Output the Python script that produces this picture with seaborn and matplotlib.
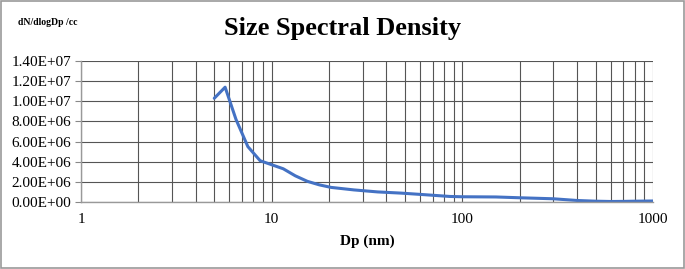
import matplotlib
matplotlib.use("Agg")
import matplotlib.pyplot as plt
import matplotlib.ticker as mticker
import seaborn as sns
import pandas as pd
from matplotlib.patches import Rectangle

dp_nm = [5.0, 5.7, 6.5, 7.5, 8.7, 10.0, 11.5, 13.3, 15.4, 17.8, 20.5, 27.0, 36.0, 48.0, 64.0, 86.0, 100.0, 150.0, 200.0, 300.0, 400.0, 500.0, 600.0, 700.0, 800.0, 1000.0]
density = [1.03e7, 1.14e7, 8.2e6, 5.5e6, 4.1e6, 3.7e6, 3.3e6, 2.6e6, 2.05e6, 1.7e6, 1.45e6, 1.2e6, 1.0e6, 0.88e6, 0.72e6, 0.55e6, 0.52e6, 0.5e6, 0.42e6, 0.32e6, 0.15e6, 0.08e6, 0.05e6, 0.06e6, 0.08e6, 0.1e6]
yticks = [0, 2e6, 4e6, 6e6, 8e6, 1e7, 1.2e7, 1.4e7]
xticks = [1, 10, 100, 1000]

df = pd.DataFrame({"Dp": dp_nm, "dN": density})

sns.set_style("white")
plt.rcParams["font.family"] = ["Liberation Serif", "DejaVu Serif"]
plt.rcParams["text.color"] = "black"
plt.rcParams["axes.labelcolor"] = "black"
plt.rcParams["xtick.labelcolor"] = "black"
plt.rcParams["ytick.labelcolor"] = "black"

fig = plt.figure(figsize=(6.85, 2.69), dpi=100)
ax = fig.add_axes([81/685, 1 - 202/269, (653-81)/685, (202-61)/269])

sns.lineplot(data=df, x="Dp", y="dN", ax=ax, color="#4472C4", linewidth=2.2)
ax.set_xscale("log")
ax.set_xlim(1, 1000)
ax.set_ylim(0, 1.4e7)
ax.set_yticks(yticks)
ax.yaxis.set_major_formatter(mticker.FuncFormatter(lambda v, p: "%.2E" % v))
ax.set_xticks(xticks)
ax.xaxis.set_major_formatter(mticker.FuncFormatter(lambda v, p: "%d" % v))
ax.xaxis.set_minor_locator(mticker.LogLocator(base=10, subs=range(2, 10)))
ax.xaxis.set_minor_formatter(mticker.NullFormatter())

ax.grid(True, which="major", axis="both", color="#555555", linewidth=0.8)
ax.grid(True, which="minor", axis="x", color="#555555", linewidth=0.8)
ax.tick_params(axis="y", which="major", length=4, color="#888888", labelsize=11, pad=3, left=True, labelcolor="black")
ax.tick_params(axis="x", which="major", length=0, labelsize=11, pad=8, labelcolor="black")
ax.tick_params(axis="x", which="minor", length=0)
for s in ["top", "right"]:
    ax.spines[s].set_visible(False)
for s in ["left", "bottom"]:
    ax.spines[s].set_color("#999999")
    ax.spines[s].set_linewidth(1.0)

ax.set_xlabel("Dp (nm)", fontsize=11, fontweight="bold", labelpad=6, color="black")
ax.set_ylabel("")
fig.text(0.5, 1 - 29/269, "Size Spectral Density", ha="center", va="center", fontsize=19, fontweight="bold", color="black")
fig.text(18/685, 1 - 23/269, "dN/dlogDp /cc", ha="left", va="center", fontsize=7, fontweight="bold", color="black")

fig.patches.append(Rectangle((0.002, 0.004), 0.996, 0.992, transform=fig.transFigure, fill=False, edgecolor="#999999", linewidth=1.2))

fig.savefig("out.png", dpi=100)
